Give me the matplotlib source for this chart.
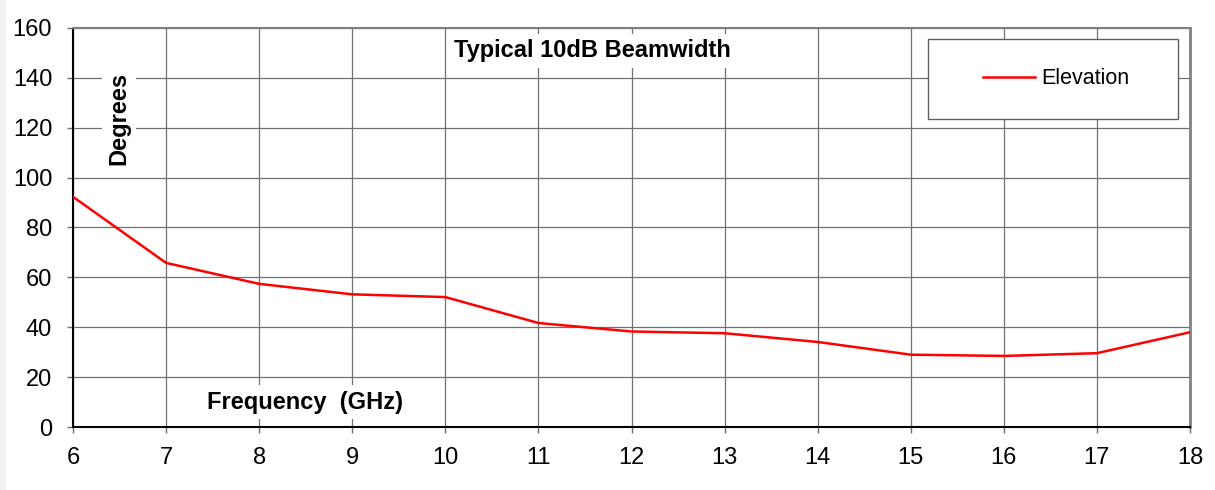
import matplotlib.pyplot as plt
from matplotlib.patches import Rectangle

# Data
freq_ghz = [6, 7, 8, 9, 10, 11, 12, 13, 14, 15, 16, 17, 18]
elevation = [92.3, 65.8, 57.4, 53.2, 52.1, 41.7, 38.3, 37.6, 34.1, 29.0, 28.5, 29.6, 38.0]

x_ticks = list(range(6, 19))
y_ticks = list(range(0, 161, 20))

plt.rcParams['font.family'] = ['Liberation Sans', 'DejaVu Sans']

fig = plt.figure(figsize=(12.15, 4.9), dpi=100)
fig.patch.set_facecolor('white')

# thin grey strip on the left edge
fig.patches.append(Rectangle((0, 0), 6 / 1215, 1, transform=fig.transFigure,
                             facecolor='#f0f2f0', edgecolor='none', zorder=0))

ax = fig.add_axes([73 / 1215, 1 - 427 / 490, (1190 - 73) / 1215, (427 - 28) / 490])

ax.plot(freq_ghz, elevation, color='#ff0000', linewidth=1.8, label='Elevation', zorder=3)

ax.set_xlim(6, 18)
ax.set_ylim(0, 160)
ax.set_xticks(x_ticks)
ax.set_yticks(y_ticks)
ax.grid(True, color='#707070', linewidth=0.9)
ax.set_axisbelow(True)

ax.tick_params(axis='both', labelsize=17, direction='out', length=4.5,
               width=1, color='#707070')
ax.tick_params(axis='y', pad=10.5)
ax.tick_params(axis='x', pad=10)

ax.spines['left'].set_color('black')
ax.spines['left'].set_linewidth(1.5)
ax.spines['bottom'].set_color('black')
ax.spines['bottom'].set_linewidth(1.5)
ax.spines['top'].set_color('#808080')
ax.spines['top'].set_linewidth(1.5)
ax.spines['right'].set_color('#808080')
ax.spines['right'].set_linewidth(2)

box = dict(facecolor='white', edgecolor='none', pad=4)

# Labels placed inside the plot like the original
fig.text(592 / 1215, 1 - 51 / 490, 'Typical 10dB Beamwidth', fontsize=17,
         fontweight='bold', ha='center', va='center', bbox=box, zorder=5)
fig.text(119 / 1215, 1 - 118 / 490, 'Degrees', fontsize=17, fontweight='bold',
         rotation=90, ha='center', va='center', bbox=box, zorder=5)
fig.text(305 / 1215, 1 - 402 / 490, 'Frequency  (GHz)', fontsize=17,
         fontweight='bold', ha='center', va='center', bbox=box, zorder=5)

# Legend box
fig.patches.append(Rectangle((928 / 1215, 1 - 119 / 490), 250 / 1215, 80 / 490,
                             transform=fig.transFigure, facecolor='white',
                             edgecolor='#606060', linewidth=1.0, zorder=4))
handles, labels = ax.get_legend_handles_labels()
leg = fig.legend(handles, labels, loc='center', bbox_to_anchor=(1056 / 1215, 1 - 79 / 490),
                 frameon=False, fontsize=15.5, handlelength=2.45, handletextpad=0.28)
leg.set_zorder(6)

fig.savefig('out.png', dpi=100)
